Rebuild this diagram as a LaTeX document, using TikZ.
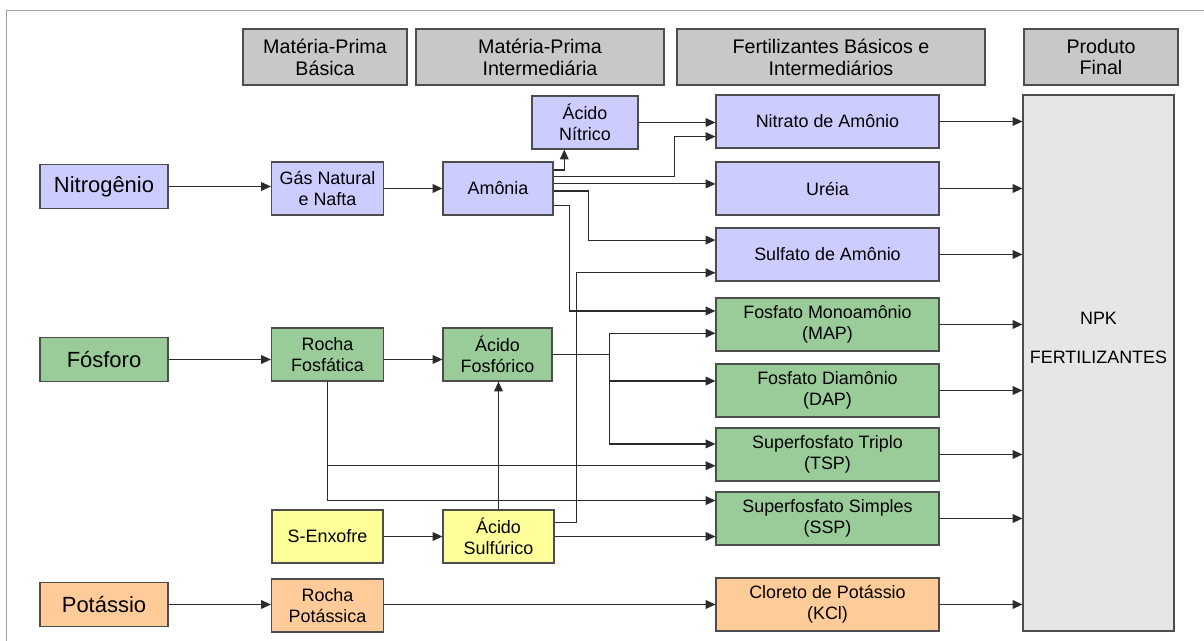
\documentclass[tikz,border=0pt]{standalone}
\usepackage{fontspec}
\setmainfont{Liberation Sans}
\usetikzlibrary{arrows.meta}
\definecolor{nblue}{HTML}{CCCCFF}
\definecolor{pgreen}{HTML}{99CC99}
\definecolor{syellow}{HTML}{FFFF99}
\definecolor{korange}{HTML}{FFCC99}
\definecolor{hgray}{HTML}{C8C8C8}
\definecolor{npkgray}{HTML}{E6E6E6}
\definecolor{edge}{HTML}{4D4D4D}
\definecolor{wire}{HTML}{2B2B2B}
\begin{document}
\begin{tikzpicture}[x=0.02cm, y=-0.02cm,
  box/.style={draw=edge, line width=0.7pt, inner sep=0pt, align=center, minimum height=1.06cm, font=\fontsize{10.2}{12}\selectfont},
  hdr/.style={box, fill=hgray, minimum height=1.12cm, font=\fontsize{11.2}{12.4}\selectfont},
  elem/.style={box, minimum width=2.56cm, minimum height=0.89cm, font=\fontsize{12.5}{15}\selectfont},
  prod/.style={box, minimum width=4.46cm},
  conn/.style={draw=wire, line width=0.65pt, -{Triangle[length=5.6pt,width=5pt]}},
  outline/.style={draw=black!38, line width=0.6pt}]
\useasboundingbox (0,0) rectangle (1204,641);
\draw[outline] (6.5,641) -- (6.5,10.5) -- (1204,10.5);
% cabecalhos
\node[hdr, minimum width=3.28cm] (hbas) at (325,57) {Matéria-Prima\\Básica};
\node[hdr, minimum width=4.96cm] (hint) at (540,57) {Matéria-Prima\\Intermediária};
\node[hdr, minimum width=6.16cm] (hfer) at (831,57) {Fertilizantes Básicos e\\Intermediários};
\node[hdr, minimum width=3.08cm] (hpro) at (1101,57) {Produto\\Final};
% nitrogenio
\node[elem, fill=nblue] (nit) at (104,186.5) {Nitrogênio};
\node[box, fill=nblue, minimum width=2.24cm] (gas) at (327.5,188.5) {Gás Natural\\e Nafta};
\node[box, fill=nblue, minimum width=2.2cm] (amo) at (498,188.5) {Amônia};
\node[box, fill=nblue, minimum width=2.12cm] (acn) at (585,122.5) {Ácido\\Nítrico};
\node[prod, fill=nblue] (nitr) at (827.5,121.5) {Nitrato de Amônio};
\node[prod, fill=nblue] (ure) at (827.5,188.5) {Uréia};
\node[prod, fill=nblue] (sulf) at (827.5,254.5) {Sulfato de Amônio};
% fosforo
\node[elem, fill=pgreen] (fos) at (104,359.5) {Fósforo};
\node[box, fill=pgreen, minimum width=2.24cm] (rocf) at (327.5,354.5) {Rocha\\Fosfática};
\node[box, fill=pgreen, minimum width=2.18cm] (acf) at (497.5,354.5) {Ácido\\Fosfórico};
\node[prod, fill=pgreen] (map) at (827.5,324.5) {Fosfato Monoamônio\\(MAP)};
\node[prod, fill=pgreen] (dap) at (827.5,390.5) {Fosfato Diamônio\\(DAP)};
\node[prod, fill=pgreen] (tsp) at (827.5,454.5) {Superfosfato Triplo\\(TSP)};
\node[prod, fill=pgreen] (ssp) at (827.5,518.5) {Superfosfato Simples\\(SSP)};
% enxofre
\node[box, fill=syellow, minimum width=2.22cm] (sen) at (327.5,536.5) {S-Enxofre};
\node[box, fill=syellow, minimum width=2.22cm] (acs) at (498.5,536.5) {Ácido\\Sulfúrico};
% potassio
\node[elem, fill=korange] (pot) at (104,604.5) {Potássio};
\node[box, fill=korange, minimum width=2.24cm] (rocp) at (327.5,605.5) {Rocha\\Potássica};
\node[prod, fill=korange] (kcl) at (827.5,604.5) {Cloreto de Potássio\\(KCl)};
% produto final
\node[box, fill=npkgray, minimum width=3.02cm, minimum height=10.72cm] (npk) at (1098.5,363) {NPK\\[10pt]FERTILIZANTES\\[17pt]\mbox{}};
% ligacoes
\draw[conn] (nit.east) -- (nit.east -| gas.west);
\draw[conn] (gas.east) -- (gas.east -| amo.west);
\draw[conn] (fos.east) -- (fos.east -| rocf.west);
\draw[conn] (rocf.east |- fos.east) -- (fos.east -| acf.west);
\draw[conn] (pot.east) -- (pot.east -| rocp.west);
\draw[conn] (rocp.east |- pot.east) -- (pot.east -| kcl.west);
\draw[conn] (sen.east) -- (acs.west);
\draw[conn] (acs.north) -- (acs.north |- acf.south);
\draw[conn] (acs.east) -- (acs.east -| ssp.west);
\draw[conn] ([yshift=7.9pt]acs.east) -- ++(22,0) |- ([yshift=-10.4pt]sulf.west);
\draw[conn] ([yshift=10.5pt]amo.east) -| ([xshift=-11.8pt]acn.south);
\draw[conn] ([yshift=6.7pt]amo.east) -- ++(121,0) |- ([yshift=-8.6pt]nitr.west);
\draw[conn] ([yshift=2.6pt]amo.east) -- ([yshift=2.6pt]amo.east -| ure.west);
\draw[conn] ([yshift=-1.4pt]amo.east) -- ++(35,0) |- ([yshift=8.2pt]sulf.west);
\draw[conn] ([yshift=-9.8pt]amo.east) -- ++(16,0) |- ([yshift=7.7pt]map.west);
\draw[conn] (acn.east) -- (acn.east -| nitr.west);
\foreach \t/\s in {map/-5pt, dap/5.4pt, tsp/6pt}
  \draw[conn] (acf.east) -- ++(57,0) |- ([yshift=\s]\t.west);
\draw[conn] (rocf.south) |- ([yshift=-6.4pt]tsp.west);
\draw[conn] (rocf.south) |- ([yshift=10.2pt]ssp.west);
\foreach \n in {nitr,ure,sulf,map,dap,tsp,ssp,kcl}
  \draw[conn] (\n.east) -- (\n.east -| npk.west);
\end{tikzpicture}
\end{document}
